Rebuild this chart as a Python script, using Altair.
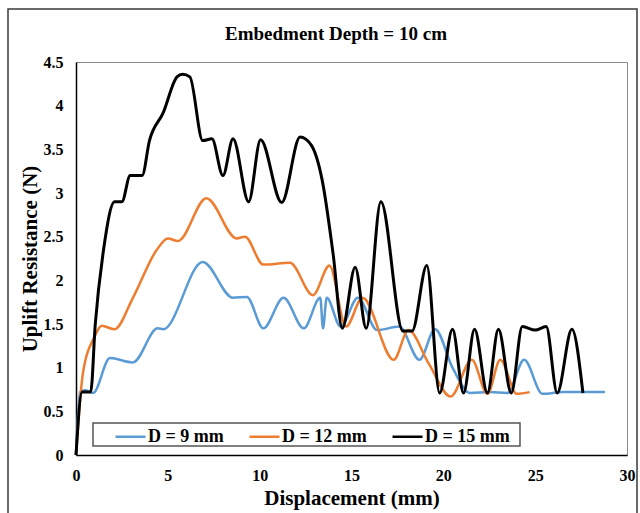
import altair as alt
import pandas as pd

series_names = ["D = 9 mm", "D = 12 mm", "D = 15 mm"]
series_colors = ["#5B9BD5", "#ED7D31", "#000000"]

# D = 9 mm (blue)
x_d9 = [0, 0.22, 0.5, 0.93, 1.85, 3.1, 4.45, 4.75, 6.9, 8.55, 9.3, 10.2, 11.3, 12.4, 13.3, 13.45, 13.65,
        14.4, 15.35, 16.4, 17.6, 18.7, 19.55, 20.5, 21.45, 22.5, 23.5, 24.4, 25.4, 26.5, 28.8]
y_d9 = [0, 0.72, 0.74, 0.71, 1.11, 1.06, 1.45, 1.44, 2.21, 1.8, 1.81, 1.45, 1.8, 1.45, 1.8, 1.45, 1.8,
        1.47, 1.8, 1.43, 1.47, 1.09, 1.44, 1.0, 0.71, 0.72, 0.71, 1.09, 0.7, 0.72, 0.72]

# D = 12 mm (orange)
x_d12 = [0, 0.38, 1.0, 1.4, 2.1, 3.1, 4.4, 5.0, 5.55, 7.1, 8.75, 9.2, 10.2, 11.65, 12.9, 13.8, 14.7,
         15.6, 17.3, 18.1, 19.2, 20.4, 21.55, 22.4, 23.1, 24.0, 24.7]
y_d12 = [0, 0.94, 1.35, 1.48, 1.44, 1.8, 2.35, 2.48, 2.45, 2.94, 2.48, 2.5, 2.18, 2.2, 1.83, 2.17, 1.47,
         1.8, 1.09, 1.43, 1.05, 0.67, 1.09, 0.7, 1.09, 0.7, 0.72]

# D = 15 mm (black)
x_d15 = [0, 0.33, 0.8, 1.05, 1.5, 2.1, 2.5, 2.95, 3.6, 4.0, 4.75, 5.5, 5.8, 6.2, 6.9, 7.4, 8.0, 8.55,
         9.4, 10.05, 11.2, 12.2, 12.8, 13.4, 14.0, 14.5, 15.2, 15.8, 16.6, 17.8, 18.3, 19.1, 19.8,
         20.5, 21.1, 21.7, 22.4, 23.0, 23.7, 24.3, 25.0, 25.6, 26.2, 27.0, 27.6]
y_d15 = [0, 0.72, 0.72, 1.5, 2.35, 2.9, 2.9, 3.2, 3.2, 3.6, 3.92, 4.33, 4.36, 4.33, 3.6, 3.62, 3.2, 3.62,
         2.9, 3.61, 2.89, 3.64, 3.55, 3.15, 2.3, 1.45, 2.15, 1.45, 2.9, 1.42, 1.42, 2.17, 0.71,
         1.44, 0.71, 1.44, 0.71, 1.44, 0.71, 1.47, 1.43, 1.47, 0.71, 1.44, 0.71]

x_ticks = [0, 5, 10, 15, 20, 25, 30]
y_ticks = [0, 0.5, 1, 1.5, 2, 2.5, 3, 3.5, 4, 4.5]
chart_title = "Embedment Depth = 10 cm"

FONT = "Liberation Serif"
W, H = 551, 393


def frame(name, xs, ys):
    return pd.DataFrame({"x": xs, "y": ys, "series": name})


dfs = [frame(series_names[0], x_d9, y_d9),
       frame(series_names[1], x_d12, y_d12),
       frame(series_names[2], x_d15, y_d15)]
widths = [2.5, 2.5, 3]

legend = alt.Legend(
    title=None, orient="none", legendX=36, legendY=356, direction="horizontal", columns=3,
    symbolType="stroke", symbolSize=900, symbolStrokeWidth=2.5, labelFont=FONT,
    labelFontSize=18, labelFontWeight="bold", labelColor="black", labelOffset=1,
    columnPadding=20, padding=2,
)

x_enc = alt.X("x:Q", scale=alt.Scale(domain=[0, 30], nice=False),
              axis=alt.Axis(values=x_ticks, title="Displacement (mm)", ticks=False, grid=False,
                            labelFlush=False, labelPadding=12, titleX=W / 2, titleY=43,
                            titleBaseline="middle", titleAlign="center"))
y_enc = alt.Y("y:Q", scale=alt.Scale(domain=[0, 4.5], nice=False),
              axis=alt.Axis(values=y_ticks, title="Uplift Resistance (N)", ticks=False, grid=False,
                            labelFlush=False, format="~g", labelPadding=13, titleX=-46, titleY=H / 2,
                            titleAngle=-90, titleBaseline="middle", titleAlign="center"))
color_enc = alt.Color("series:N", scale=alt.Scale(domain=series_names, range=series_colors),
                      legend=legend)

one = pd.DataFrame({"a": [0]})
layers = []
outer = alt.Chart(one).mark_rect(
    filled=False, stroke="#3a3a3a", strokeWidth=1.5
).encode(x=alt.value(-68), x2=alt.value(561), y=alt.value(-53), y2=alt.value(470))
layers.append(outer)

title_mark = alt.Chart(one).mark_text(
    font=FONT, fontSize=19, fontWeight="bold", color="black", align="center", baseline="middle"
).encode(x=alt.value(260), y=alt.value(-28), text=alt.value(chart_title))
layers.append(title_mark)

for df, w in zip(dfs, widths):
    layers.append(
        alt.Chart(df).mark_line(interpolate="monotone", strokeWidth=w).encode(
            x=x_enc, y=y_enc, color=color_enc
        )
    )

legend_box = alt.Chart(one).mark_rect(
    filled=False, stroke="#555555", strokeWidth=1.5
).encode(x=alt.value(17), x2=alt.value(444), y=alt.value(361), y2=alt.value(384))
layers.append(legend_box)

chart = alt.layer(*layers).properties(
    width=W, height=H,
    autosize=alt.AutoSizeParams(type="none"),
    padding={"left": 76, "top": 62, "right": 13, "bottom": 58},
    background="white",
).configure_view(stroke="#8a8a8a", strokeWidth=1).configure_axis(
    domainColor="black", domainWidth=1.5, labelFont=FONT, labelFontSize=16, labelFontWeight="bold",
    labelColor="black", titleFont=FONT, titleFontSize=21, titleFontWeight="bold", titleColor="black",
)

chart.save("out.html", embed_options={"renderer": "svg", "actions": False})
